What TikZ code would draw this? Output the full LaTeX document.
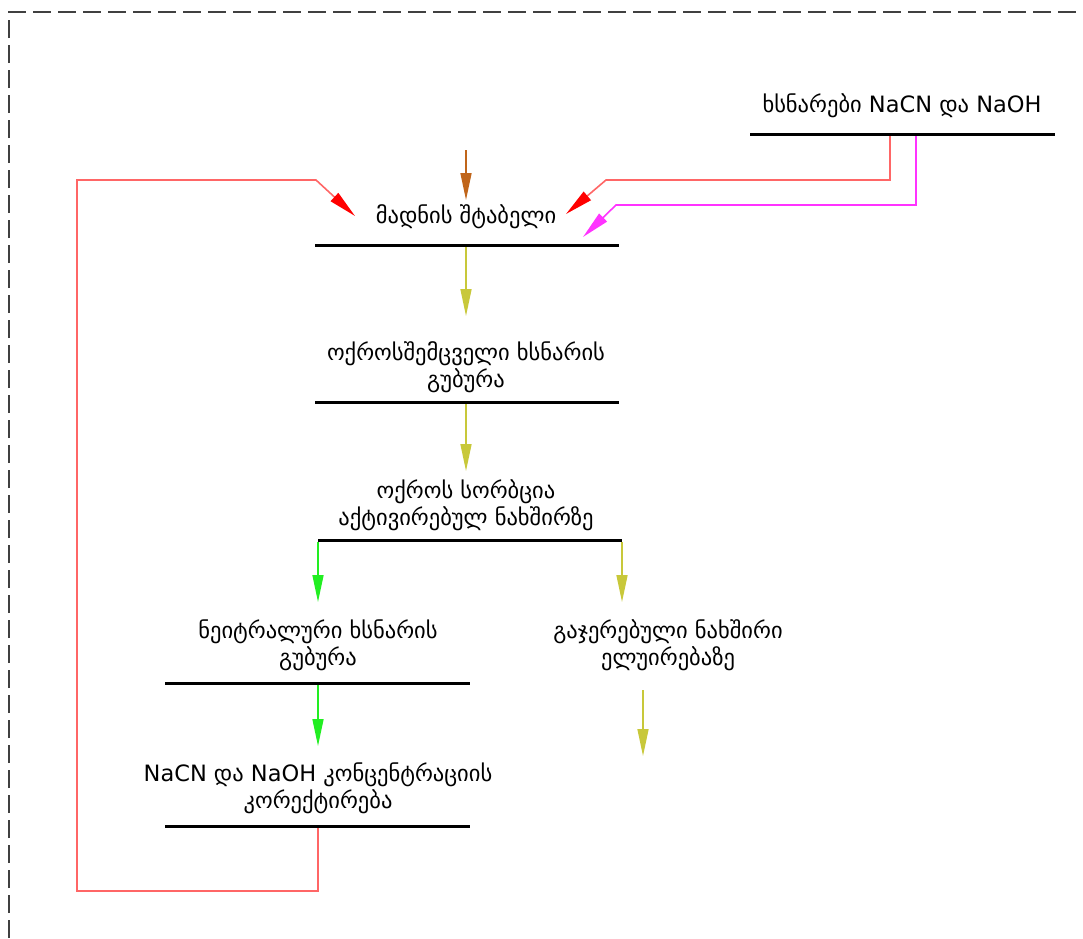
\documentclass[tikz,border=0pt]{standalone}
\usepackage{fontspec}
\setmainfont{DejaVu Sans}
\usetikzlibrary{arrows.meta}
\definecolor{frameg}{HTML}{404040}
\definecolor{lred}{HTML}{FF6666}
\definecolor{ared}{HTML}{FF0000}
\definecolor{mag}{HTML}{FF33FF}
\definecolor{brn}{HTML}{C0651A}
\definecolor{olv}{HTML}{C8C83A}
\definecolor{grn}{HTML}{22EE22}
\tikzset{
  lbl/.style={font=\fontsize{22.5}{27}\selectfont, align=center, inner sep=0pt},
  uline/.style={line width=3pt, black},
  conn/.style={line width=1.6pt},
  tip/.style={-{Triangle[length=27pt,width=11pt]}},
  frame/.style={frameg, line width=1.2pt, dash pattern=on 18pt off 7pt}
}
\begin{document}
\begin{tikzpicture}[x=1pt,y=-1pt]
\useasboundingbox (0,0) rectangle (1083,938);
\draw[frame] (9,938) -- (9,12) -- (1083,12);

% labels
\node[lbl] (t1) at (902,106) {ხსნარები NaCN და NaOH};
\node[lbl] (t2) at (466,217) {მადნის შტაბელი};
\node[lbl] (t3) at (466,367) {ოქროსშემცველი ხსნარის\\გუბურა};
\node[lbl] (t4) at (466,505) {ოქროს სორბცია\\აქტივირებულ ნახშირზე};
\node[lbl] (t5) at (318,645) {ნეიტრალური ხსნარის\\გუბურა};
\node[lbl] (t6) at (668,645) {გაჯერებული ნახშირი\\ელუირებაზე};
\node[lbl] (t7) at (318,788) {NaCN და NaOH კონცენტრაციის\\კორექტირება};

% underline coordinates
\coordinate (u1l) at (750,134); \coordinate (u1r) at (1055,134);
\coordinate (u2l) at (315,245); \coordinate (u2r) at (619,245);
\coordinate (u3l) at (315,402); \coordinate (u3r) at (619,402);
\coordinate (u4l) at (318,540); \coordinate (u4r) at (622,540);
\coordinate (u5l) at (165,683); \coordinate (u5r) at (470,683);
\coordinate (u7l) at (165,826); \coordinate (u7r) at (470,826);
\foreach \a/\b in {u1l/u1r,u2l/u2r,u3l/u3r,u4l/u4r,u5l/u5r,u7l/u7r}
  \draw[uline] (\a) -- (\b);

% arrow coordinates
\coordinate (brs) at (466,150); \coordinate (bre) at (466,200);
\coordinate (a2s) at (466,247); \coordinate (a2e) at (466,316);
\coordinate (a3s) at (466,404); \coordinate (a3e) at (466,471);
\coordinate (g1s) at (318,542); \coordinate (g1e) at (318,602);
\coordinate (o1s) at (622,542); \coordinate (o1e) at (622,602);
\coordinate (g2s) at (318,685); \coordinate (g2e) at (318,746);
\coordinate (o2s) at (643,690); \coordinate (o2e) at (643,756);

\draw[conn, brn, tip] (brs) -- (bre);
\draw[conn, olv, tip] (a2s) -- (a2e);
\draw[conn, olv, tip] (a3s) -- (a3e);
\draw[conn, grn, tip] (g1s) -- (g1e);
\draw[conn, olv, tip] (o1s) -- (o1e);
\draw[conn, grn, tip] (g2s) -- (g2e);
\draw[conn, olv, tip] (o2s) -- (o2e);

% recycle loop (red)
\coordinate (r0) at (318,828);
\coordinate (rtip) at (355,216);
\draw[conn, lred, -{Triangle[length=28pt,width=11pt,color=ared]}]
  (r0) -- (318,891) -- (77,891) -- (77,180) -- (316,180) -- (rtip);

% solution feed (red)
\coordinate (s0) at (890,136);
\coordinate (stip) at (566,214);
\draw[conn, lred, -{Triangle[length=28pt,width=11pt,color=ared]}]
  (s0) -- (890,180) -- (606,180) -- (stip);

% solution feed (magenta)
\coordinate (m0) at (916,136);
\coordinate (mtip) at (583,237);
\draw[conn, mag, -{Triangle[length=28pt,width=11pt]}]
  (m0) -- (916,205) -- (616,205) -- (mtip);
\end{tikzpicture}
\end{document}
